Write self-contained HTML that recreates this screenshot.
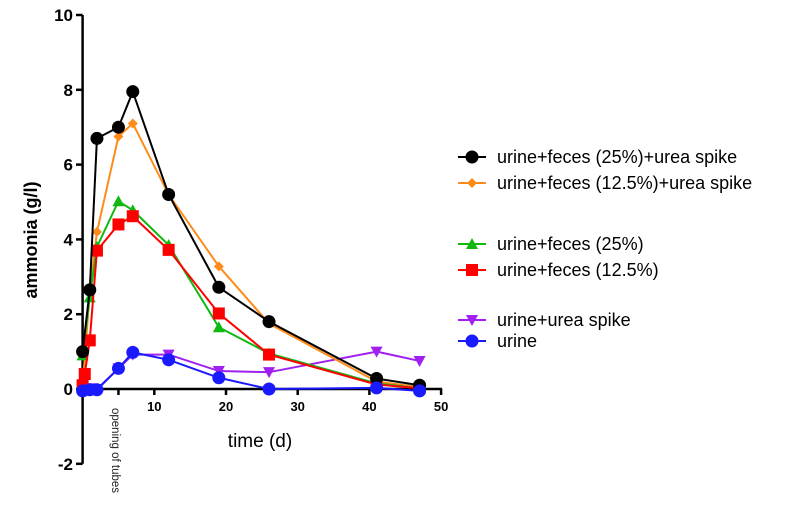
<!DOCTYPE html>
<html><head><meta charset="utf-8"><style>
body{margin:0;background:#fff;font-family:"Liberation Sans",sans-serif}
svg text{font-family:"Liberation Sans",sans-serif}
</style></head><body>
<svg id="c" width="799" height="523"></svg>
<script>
const xTicks=[10,20,30,40,50];
const yTicks=[-2,0,2,4,6,8,10];
const tBlack=[0,1,2,5,7,12,19,26,41,47];
const vBlack=[1.0,2.65,6.7,7.0,7.95,5.2,2.72,1.8,0.28,0.1];
const tOrange=[0,1,2,5,7,12,19,26,41,47];
const vOrange=[0.05,2.6,4.2,6.75,7.1,5.2,3.28,1.75,0.2,0.05];
const tGreen=[0,1,2,5,7,12,19,26,41,47];
const vGreen=[0.9,2.45,3.8,5.02,4.78,3.85,1.65,0.95,0.15,0.02];
const tRed=[0,0.3,1,2,5,7,12,19,26,41,47];
const vRed=[0.1,0.4,1.3,3.7,4.4,4.62,3.72,2.02,0.92,0.12,0.02];
const tPurple=[0,1,2,5,7,12,19,26,41,47];
const vPurple=[0.05,0.02,0,0.55,0.92,0.92,0.48,0.45,1.0,0.75];
const tBlue=[0,1,2,5,7,12,19,26,41,47];
const vBlue=[-0.05,-0.02,-0.02,0.55,0.98,0.78,0.3,0,0.03,-0.05];
const legendLabels=["urine+feces (25%)+urea spike","urine+feces (12.5%)+urea spike","urine+feces (25%)","urine+feces (12.5%)","urine+urea spike","urine"];

const svg=document.getElementById('c');const NS='http://www.w3.org/2000/svg';
const X=t=>82.6+t*7.17, Y=v=>389-v*37.4;
function mk(tag,a,p){const e=document.createElementNS(NS,tag);for(const k in a)e.setAttribute(k,a[k]);(p||svg).appendChild(e);return e;}
let ya=mk('line',{x1:82.6,y1:Y(10),x2:82.6,y2:Y(-2),stroke:'#000','stroke-width':2.5});

let xa=mk('line',{x1:82.6,y1:389,x2:X(50)+1,y2:389,stroke:'#000','stroke-width':2.5});

yTicks.forEach(v=>{mk('line',{x1:76,y1:Y(v),x2:82.6,y2:Y(v),stroke:'#000','stroke-width':2.5});
 const t=mk('text',{x:73,y:Y(v)+6,'text-anchor':'end','font-size':17,'font-weight':'bold'});t.textContent=v;
 });
[5,...xTicks].forEach(v=>mk('line',{x1:X(v),y1:389,x2:X(v),y2:395,stroke:'#000','stroke-width':2.5}));
xTicks.forEach(v=>{const t=mk('text',{x:X(v),y:411,'text-anchor':'middle','font-size':13,'font-weight':'bold'});t.textContent=v;
 });
let yt=mk('text',{x:0,y:0,transform:'translate(37,240) rotate(-90)','text-anchor':'middle','font-size':18,'font-weight':'bold'});yt.textContent='ammonia (g/l)';

let xt=mk('text',{x:260,y:447,'text-anchor':'middle','font-size':19});xt.textContent='time (d)';

let an=mk('text',{x:0,y:0,transform:'translate(112,408) rotate(90)','font-size':11.5,fill:'#222'});an.textContent='opening of tubes';


function marker(shape,x,y,c,g){
 if(shape==='circle')mk('circle',{cx:x,cy:y,r:6.5,fill:c},g);
 else if(shape==='diamond')mk('polygon',{points:`${x},${y-5} ${x+5},${y} ${x},${y+5} ${x-5},${y}`,fill:c},g);
 else if(shape==='square')mk('rect',{x:x-6,y:y-6,width:12,height:12,fill:c},g);
 else if(shape==='tri')mk('polygon',{points:`${x},${y-6} ${x+6},${y+5} ${x-6},${y+5}`,fill:c},g);
 else if(shape==='tridown')mk('polygon',{points:`${x},${y+6} ${x+6},${y-5} ${x-6},${y-5}`,fill:c},g);
}
const series=[
 {t:tPurple,v:vPurple,c:'#a020f0',s:'tridown',n:'series-urine-urea-spike',ly:320,l:4},
 {t:tOrange,v:vOrange,c:'#ff8c1a',s:'diamond',n:'series-feces-12-5-urea',ly:183,l:1},
 {t:tGreen,v:vGreen,c:'#12b812',s:'tri',n:'series-feces-25',ly:244,l:2},
 {t:tRed,v:vRed,c:'#ff0000',s:'square',n:'series-feces-12-5',ly:270,l:3},
 {t:tBlack,v:vBlack,c:'#000',s:'circle',n:'series-feces-25-urea',ly:157,l:0},
 {t:tBlue,v:vBlue,c:'#1a1aff',s:'circle',n:'series-urine',ly:341,l:5},
];
series.forEach(S=>{
 const g=mk('g',{});
 mk('polyline',{points:S.t.map((t,i)=>X(t)+','+Y(S.v[i])).join(' '),fill:'none',stroke:S.c,'stroke-width':2},g);
 S.t.forEach((t,i)=>marker(S.s,X(t),Y(S.v[i]),S.c,g));
 const lg=mk('g',{});
 mk('line',{x1:458,y1:S.ly,x2:486,y2:S.ly,stroke:S.c,'stroke-width':2},lg);
 marker(S.s,472,S.ly,S.c,lg);
 const tx=mk('text',{x:497,y:S.ly+6,'font-size':18},lg);tx.textContent=legendLabels[S.l];
});
</script>
</body></html>
